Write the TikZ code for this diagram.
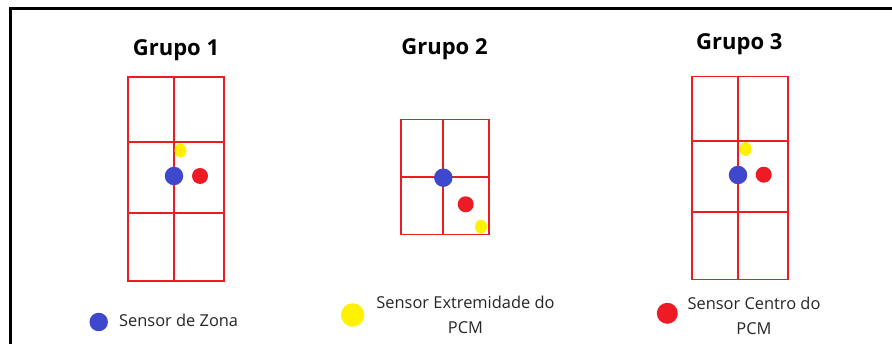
\documentclass[tikz,border=0pt]{standalone}
\usepackage{fontspec}
\setmainfont{Open Sans}
\usetikzlibrary{shapes.geometric}
\definecolor{gridred}{HTML}{ED1C24}
\definecolor{dotblue}{HTML}{3F48CC}
\definecolor{dotyellow}{HTML}{FFF200}
\definecolor{txt}{HTML}{262626}
\begin{document}
\begin{tikzpicture}[x=1pt,y=-1pt,
  gridline/.style={draw=gridred,line width=1.6pt},
  dot/.style={circle,inner sep=0pt,minimum size=#1},
  bdot/.style={dot=18.5pt,fill=dotblue},
  rdot/.style={dot=16pt,fill=gridred},
  ydot/.style={ellipse,inner sep=0pt,minimum width=12pt,minimum height=14pt,fill=dotyellow},
  title/.style={font=\fontsize{22}{26}\selectfont\bfseries},
  legtext/.style={font=\fontsize{16.4}{25}\selectfont,text=txt,align=center,inner sep=0pt}]
\useasboundingbox (0,0) rectangle (892,344);
% frame
\draw[line width=3pt] (10,344) -- (10,9) -- (892,9);
% Grupo 1
\node[title] (t1) at (176,50) {Grupo 1};
\draw[gridline] (128,77) rectangle (224,281);
\draw[gridline] (128,142) -- (224,142);
\draw[gridline] (128,213) -- (224,213);
\draw[gridline] (174,77) -- (174,281);
\node[ydot] (y1) at (180.5,150.5) {};
\node[bdot] (b1) at (174,176) {};
\node[rdot] (r1) at (200,176) {};
% Grupo 2
\node[title] (t2) at (444.5,49) {Grupo 2};
\draw[gridline] (401,119.5) rectangle (489,234.5);
\draw[gridline] (401,177) -- (489,177);
\draw[gridline] (443,119.5) -- (443,234.5);
\node[bdot] (b2) at (443.3,177.7) {};
\node[rdot] (r2) at (465.7,204.3) {};
\node[ydot] (y2) at (481,226.7) {};
% Grupo 3
\node[title] (t3) at (739.3,44) {Grupo 3};
\draw[gridline] (692,76.5) rectangle (788,279.5);
\draw[gridline] (692,141) -- (788,141);
\draw[gridline] (692,212) -- (788,212);
\draw[gridline] (738,76.5) -- (738,279.5);
\node[ydot] (y3) at (745.7,149) {};
\node[bdot] (b3) at (738,175) {};
\node[rdot] (r3) at (763.7,174.7) {};
% legend
\node[bdot] (lb) at (98.7,322) {};
\node[legtext,anchor=west] (lbt) at (119,320) {Sensor de Zona};
\node[dot=23.5pt,fill=dotyellow] (ly) at (352.7,315) {};
\node[legtext] (lyt) at (465.5,314.5) {Sensor Extremidade do\\PCM};
\node[dot=21pt,fill=gridred] (lr) at (667.3,313.3) {};
\node[legtext] (lrt) at (754,316) {Sensor Centro do\\PCM};
\end{tikzpicture}
\end{document}
